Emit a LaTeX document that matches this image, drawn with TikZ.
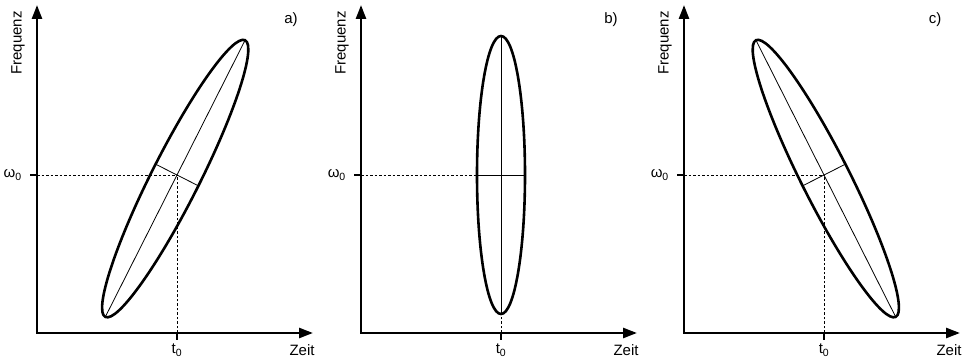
\documentclass[tikz,border=0pt]{standalone}
\usepackage{fontspec}
\setmainfont{Liberation Sans}
\usetikzlibrary{arrows.meta}
\tikzset{
  axisline/.style={line width=2.6pt, line join=miter,
    {Triangle[length=14pt,width=10pt]}-{Triangle[length=14pt,width=10pt]}},
  ellline/.style={line width=2.6pt},
  axline/.style={line width=0.8pt},
  guide/.style={line width=0.8pt, dash pattern=on 2.5pt off 2pt},
  tickline/.style={line width=2pt},
  lbl/.style={font=\fontsize{15}{15}\selectfont, inner sep=0pt},
}
% #1 prefix, #2 origin x, #3 angle, #4 ellipse offset, #5 major radius, #6 letter, #7 letter x
\newcommand\mypanel[7]{%
  \begin{scope}[shift={(#2,31)}]
    \coordinate (#1o) at (0,0);
    \coordinate (#1y) at (0,328);
    \coordinate (#1x) at (276,0);
    \coordinate (#1c) at (140,158);
    \draw[guide] (#1o |- #1c) -- (#1c);
    \draw[guide] (#1o -| #1c) -- (#1c);
    \begin{scope}[shift={(#1c)}, rotate=#3]
      \coordinate (#1e) at (#4,0);
      \draw[ellline] (#1e) ellipse [x radius=#5, y radius=24];
      \coordinate (#1m1) at ($(#1e)+(-#5,0)$);
      \coordinate (#1m2) at ($(#1e)+(#5,0)$);
      \coordinate (#1n1) at (0,-24);
      \coordinate (#1n2) at (0,24);
      \draw[axline] (#1m1) -- (#1m2);
      \draw[axline] (#1n1) -- (#1n2);
    \end{scope}
    \draw[axisline] (#1y) -- (#1o) -- (#1x);
    \draw[tickline] (#1o |- #1c) -- ++(-7,0);
    \draw[tickline] (#1o -| #1c) -- ++(0,-7);
    \node[lbl, anchor=east] (#1w) at (-15,158) {ω\textsubscript{0}};
    \node[lbl, anchor=north] (#1t) at (140,-11) {t\textsubscript{0}};
    \node[lbl] (#1z) at (265,-17) {Zeit};
    \node[lbl, rotate=90] (#1f) at (-19,290) {Frequenz};
    \node[lbl] (#1l) at (#7,313) {#6)};
  \end{scope}}
\usetikzlibrary{calc}
\begin{document}
\begin{tikzpicture}[x=1pt,y=1pt]
\useasboundingbox (0,0) rectangle (967,364);
\mypanel{a}{37}{63.2}{-4}{155}{a}{254}
\mypanel{b}{361}{90}{0}{139}{b}{250}
\mypanel{c}{684}{116.8}{-4}{155}{c}{251}
\end{tikzpicture}
\end{document}
